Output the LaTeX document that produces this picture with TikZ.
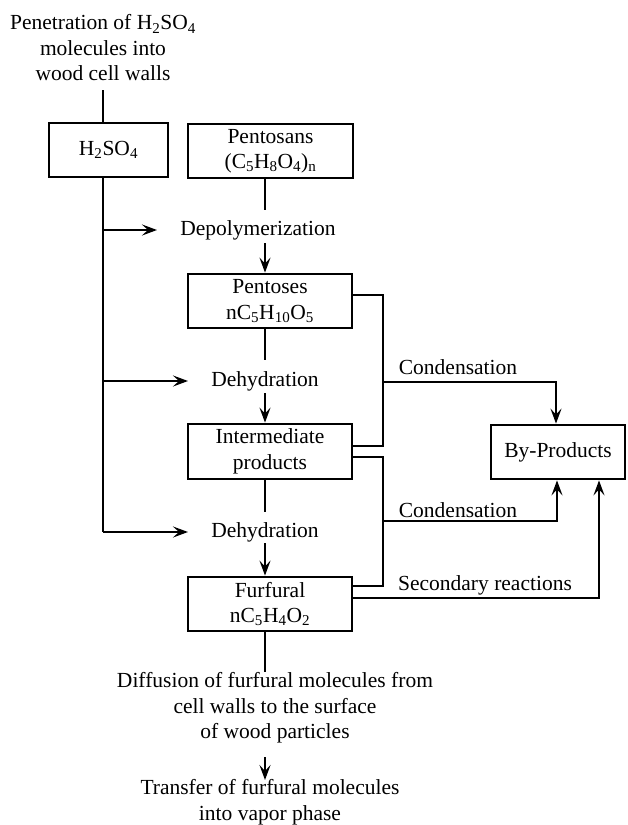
\documentclass[tikz,border=0pt]{standalone}
\usepackage{fontspec}
\setmainfont{Liberation Serif}
\usetikzlibrary{arrows.meta}
\newcommand{\sbs}[1]{\textsubscript{#1}}
\begin{document}
\begin{tikzpicture}[x=1pt,y=-1pt,
  every node/.style={font=\fontsize{21.5}{25.5}\selectfont, inner sep=0pt, align=center},
  box/.style={draw, line width=2.8pt, minimum height=54pt},
  ln/.style={line width=2.8pt},
  arr/.style={line width=2.8pt, -{Stealth[length=15pt,width=11pt,inset=6pt]}}]
\useasboundingbox (0,0) rectangle (627,825);
% nodes
\node (title) at (103,48) {Penetration of H\sbs{2}SO\sbs{4}\\molecules into\\wood cell walls};
\coordinate (t1) at (103,90);
\node[box, minimum width=119pt] (h2so4) at (108.5,150) {H\sbs{2}SO\sbs{4}};
\node[box, minimum width=165pt] (pentosans) at (270.5,151) {Pentosans\\(C\sbs{5}H\sbs{8}O\sbs{4})\sbs{n}};
\node (depol) at (258,230) {Depolymerization};
\node[box, minimum width=164pt] (pentoses) at (270,301) {Pentoses\\nC\sbs{5}H\sbs{10}O\sbs{5}};
\node (dehyd1) at (265,381) {Dehydration};
\node[box, minimum width=164pt, minimum height=55pt] (inter) at (270,451.5) {Intermediate\\products};
\node (dehyd2) at (265,532) {Dehydration};
\node[box, minimum width=164pt] (furfural) at (270,604) {Furfural\\nC\sbs{5}H\sbs{4}O\sbs{2}};
\node (diff) at (275,708) {Diffusion of furfural molecules from\\cell walls to the surface\\of wood particles};
\node (transfer) at (270,802) {Transfer of furfural molecules\\into vapor phase};
\node[box, minimum width=134pt] (byp) at (558,452) {By-Products};
\node (cond1) at (458,367) {Condensation};
\node (cond2) at (458,510) {Condensation};
\node (sec) at (485,585) {Secondary reactions};
% coordinates
\coordinate (a1) at (103,230);
\coordinate (a2) at (103,381);
\coordinate (a3) at (103,532);
\coordinate (lbot) at (103,532);
% left feed line
\draw[ln] (t1) -- (h2so4.north -| t1);
\draw[ln] (h2so4.south -| t1) -- (lbot);
\draw[arr] (a1) -- (157,230);
\draw[arr] (a2) -- (188,381);
\draw[arr] (a3) -- (188,532);
% main chain
\draw[ln] (265,177) -- (265,210);
\draw[arr] (265,243) -- (pentoses.north -| 265,0);
\draw[ln] (pentoses.south -| 265,0) -- (265,360);
\draw[arr] (265,393) -- (inter.north -| 265,0);
\draw[ln] (inter.south -| 265,0) -- (265,512);
\draw[arr] (265,543) -- (furfural.north -| 265,0);
\draw[ln] (furfural.south -| 265,0) -- (265,672);
\draw[arr] (265,757) -- (265,780);
% brackets
\draw[ln] (352,295) -| (383,446) -- (352,446);
\draw[arr] (383,382) -| (byp.north -| 556,0);
\draw[ln] (352,457) -| (383,586) -- (352,586);
\draw[arr] (383,521) -| (byp.south -| 557,0);
\draw[arr] (352,598) -| (byp.south -| 599,0);
\end{tikzpicture}
\end{document}
